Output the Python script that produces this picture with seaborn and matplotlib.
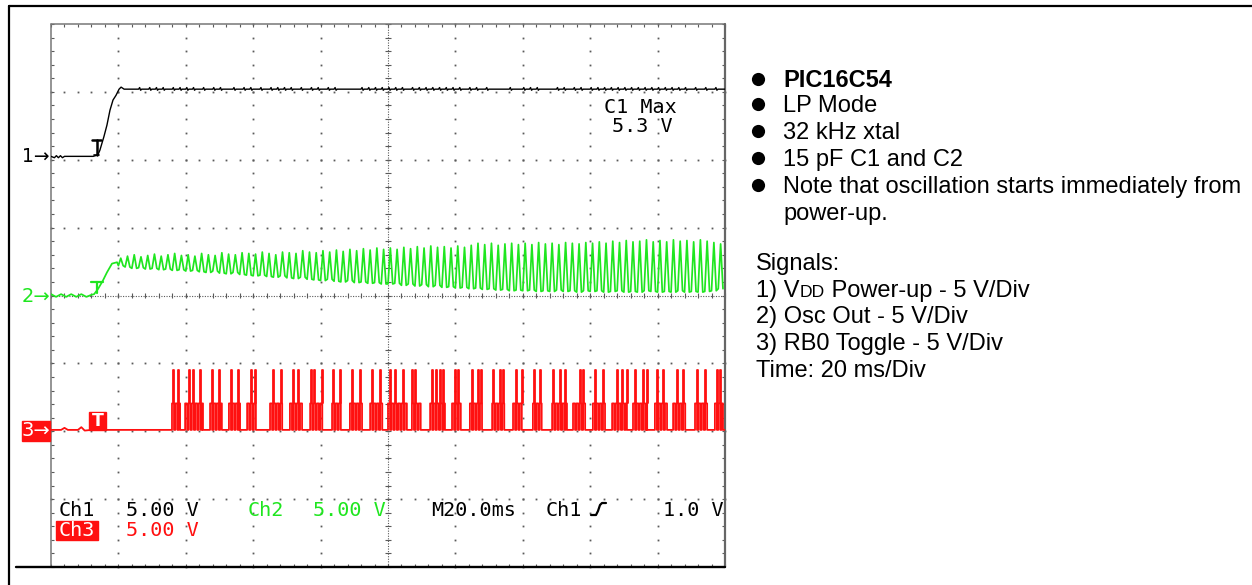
import numpy as np
import pandas as pd
import matplotlib
matplotlib.use("Agg")
import matplotlib.pyplot as plt
import seaborn as sns
from matplotlib.collections import LineCollection
from matplotlib.patches import Rectangle

sns.set_style("white")
plt.rcParams['font.family'] = ['DejaVu Sans']

# ---------------- data: time in ms (20 ms/div), signals in volts (5 V/div) ----------------
# Channel 1 : VDD power-up
ch1_t = [0.0, 1.0, 1.6, 2.2, 2.8, 3.4, 4.0, 6.5, 12.5, 13.9, 14.5, 15.7, 16.6, 17.5, 18.4, 19.3, 20.2, 20.8, 21.7]
ch1_v = [0.25, 0.15, 0.3, 0.15, 0.3, 0.15, 0.25, 0.25, 0.25, 0.35, 0.7, 1.7, 2.55, 3.65, 4.4, 4.75, 5.2, 5.35, 5.2]
ch1_level = 5.2
ch1_ripple_t = [26, 29, 31, 33, 36, 38, 40, 42, 45, 48, 50, 54, 57, 59, 62, 65, 67, 69, 71, 74, 77, 79,
                82, 84, 92, 94, 96, 98, 100, 102, 104, 107, 109, 111, 113, 115, 117, 119, 121, 124, 126,
                129, 136, 140, 142, 144, 150, 152, 155, 157, 160, 162, 164, 166, 168, 170, 172, 174, 176,
                178, 180, 182, 184, 186, 188, 191, 194, 197]

# Channel 2 : oscillator output
ch2_pre_t = [0, 1.5, 3, 4.5, 6, 7.5, 9, 10.5, 12, 12.8, 14.0, 15.4, 16.6, 18.1, 19.6]
ch2_pre_v = [0.1, -0.1, 0.1, -0.1, 0.1, -0.1, 0.1, -0.1, 0.05, 0.1, 0.5, 1.1, 1.7, 2.35, 2.45]
ch2_osc_start = 20.0   # ms
ch2_period = 2.0       # ms per cycle
ch2_high = [2.75, 2.9, 3.0, 2.85, 2.95, 3.05, 2.9, 3.0, 3.1, 2.95,
            3.0, 2.9, 3.1, 3.0, 2.95, 3.15, 3.05, 3.0, 3.15, 3.1,
            3.05, 3.2, 3.1, 3.0, 3.2, 3.15, 3.1, 3.3, 3.2, 3.15,
            3.3, 3.2, 3.35, 3.25, 3.4, 3.3, 3.45, 3.35, 3.5, 3.4,
            3.5, 3.4, 3.55, 3.45, 3.6, 3.5, 3.65, 3.55, 3.6, 3.5,
            3.65, 3.55, 3.7, 3.85, 3.75, 3.85, 3.7, 3.8, 3.85, 3.75,
            3.85, 3.75, 3.9, 3.8, 3.85, 3.75, 3.9, 3.85, 3.8, 3.9,
            3.85, 3.95, 3.85, 4.0, 3.9, 4.05, 3.95, 4.0, 4.1, 3.95,
            4.05, 3.95, 4.1, 4.0, 4.05, 3.95, 4.1, 4.0, 3.9, 3.8]
ch2_low = [2.2, 2.1, 2.0, 2.05, 1.95, 2.0, 1.9, 1.95, 1.85, 1.9,
           1.8, 1.85, 1.75, 1.7, 1.8, 1.65, 1.6, 1.7, 1.55, 1.5,
           1.45, 1.5, 1.4, 1.35, 1.45, 1.3, 1.25, 1.35, 1.2, 1.15,
           1.1, 1.2, 1.05, 1.0, 1.1, 0.95, 1.0, 0.9, 0.95, 0.85,
           0.85, 0.9, 0.75, 0.85, 0.7, 0.8, 0.65, 0.75, 0.6, 0.65,
           0.55, 0.6, 0.5, 0.55, 0.45, 0.5, 0.4, 0.45, 0.35, 0.4,
           0.35, 0.4, 0.3, 0.35, 0.3, 0.4, 0.3, 0.35, 0.25, 0.35,
           0.3, 0.35, 0.25, 0.3, 0.35, 0.25, 0.3, 0.25, 0.35, 0.3,
           0.25, 0.3, 0.25, 0.35, 0.25, 0.3, 0.25, 0.3, 0.35, 0.5]

# Channel 3 : RB0 toggle
ch3_base = 0.1
ch3_mid = 2.05
ch3_tall = 4.5
ch3_group_start = [35.9, 39.8, 47.2, 52.8, 58.2, 65.0, 70.9, 76.9, 83.4, 88.7, 94.7, 100.0, 107.1, 112.5,
                   119.0, 124.3, 130.9, 137.1, 143.0, 148.7, 154.9, 160.8, 166.5, 172.7, 179.2, 184.6, 191.1, 197.0]
ch3_group_end = [38.3, 45.1, 50.7, 56.1, 61.1, 68.8, 74.5, 80.7, 86.6, 92.3, 98.5, 105.6, 110.1, 116.9,
                 122.0, 128.2, 134.7, 140.1, 146.0, 153.1, 158.5, 165.0, 170.9, 176.9, 182.8, 188.7, 195.0, 199.4]
ch3_spike_t = [36.3, 37.8, 41.0, 42.2, 44.2, 47.7, 49.9, 53.3, 55.6, 59.3, 60.5, 65.8, 68.2, 71.9, 73.4,
               77.1, 78.0, 80.4, 83.8, 85.8, 89.2, 91.7, 95.2, 97.6, 100.6, 102.1, 104.5, 107.2, 108.0,
               113.0, 114.2, 115.4, 116.4, 119.9, 120.9, 124.8, 126.8, 127.6, 131.2, 133.2, 134.2, 137.9,
               139.7, 143.3, 145.1, 149.1, 151.0, 152.5, 157.0, 158.0, 161.4, 163.7, 167.9, 169.4, 170.8,
               173.3, 175.8, 176.8, 179.7, 181.7, 185.7, 187.6, 191.8, 194.1, 197.5, 198.5]
ch3_pre_t = [0, 3, 4, 5, 8, 9, 10, 12]
ch3_pre_v = [0.1, 0.1, 0.25, 0.1, 0.1, 0.3, 0.05, 0.1]

# channel ground positions on screen (divisions) and volts per division
ch_offset = {1: 6.0, 2: 4.0, 3: 2.0}
volts_per_div = 5.0

# ---------------- build traces ----------------
def dv(v, ch):
    return ch_offset[ch] + np.asarray(v, dtype=float) / volts_per_div

t1 = list(ch1_t)
v1 = list(ch1_v)
for tr in ch1_ripple_t:
    t1 += [tr, tr + 0.3, tr + 0.6, tr + 0.9]
    v1 += [ch1_level, ch1_level + 0.12, ch1_level - 0.08, ch1_level]
t1 += [200]
v1 += [ch1_level]
df1 = pd.DataFrame({"t": t1, "y": dv(v1, 1)})

t2 = list(ch2_pre_t)
v2 = list(ch2_pre_v)
for i, (hi, lo) in enumerate(zip(ch2_high, ch2_low)):
    t0 = ch2_osc_start + i * ch2_period
    t2 += [t0, t0 + 0.35 * ch2_period, t0 + 0.7 * ch2_period]
    v2 += [lo, hi, lo]
df2 = pd.DataFrame({"t": t2, "y": dv(v2, 2)})

t3 = list(ch3_pre_t)
v3 = list(ch3_pre_v)
for s, e in zip(ch3_group_start, ch3_group_end):
    t3.append(s); v3.append(ch3_base)
    tt = s
    while tt < e - 0.2:
        te = min(tt + 0.6, e)
        t3 += [tt, tt, te, te]
        v3 += [ch3_base, ch3_mid, ch3_mid, ch3_base]
        tt += 1.0
    t3.append(e); v3.append(ch3_base)
t3.append(200); v3.append(ch3_base)
rows = [{"t": a, "y": b, "u": 0} for a, b in zip(t3, dv(v3, 3))]
for k, ts in enumerate(ch3_spike_t):
    for a, b in [(ts, ch3_mid), (ts, ch3_tall), (ts + 0.3, ch3_tall), (ts + 0.3, ch3_mid)]:
        rows.append({"t": a, "y": float(dv(b, 3)), "u": k + 1})
df3 = pd.DataFrame(rows)

# ---------------- figure ----------------
W, H = 1252, 585
fig = plt.figure(figsize=(W / 100, H / 100), dpi=100)
fig.patch.set_facecolor("white")
ax = fig.add_axes([51 / W, (H - 567) / H, 674 / W, 543 / H])

GREEN = "#1fe61f"
RED = "#ff1010"

sns.lineplot(data=df1, x="t", y="y", ax=ax, color="black", lw=1.0, estimator=None, sort=False, zorder=3)
sns.lineplot(data=df2, x="t", y="y", ax=ax, color=GREEN, lw=1.25, estimator=None, sort=False, zorder=3)
sns.lineplot(data=df3, x="t", y="y", units="u", ax=ax, color=RED, lw=1.3, estimator=None,
             sort=False, zorder=3)
ax.set_xlim(0, 200)
ax.set_ylim(0, 8)
ax.axis("off")

# graticule
gcol = "#5a5a5a"
xs_minor = np.arange(0, 200.01, 4)
ys_minor = np.arange(0, 8.001, 0.2)
for xm in [20, 40, 60, 80, 120, 140, 160, 180]:
    ax.plot(np.full_like(ys_minor, xm), ys_minor, ls="none", marker="s", ms=1.3, mew=0,
            color=gcol, clip_on=False, zorder=1)
for ym in [1, 2, 3, 5, 6, 7]:
    ax.plot(xs_minor, np.full_like(xs_minor, ym), ls="none", marker="s", ms=1.3, mew=0,
            color=gcol, clip_on=False, zorder=1)
ax.plot([100, 100], [0, 8], color=gcol, lw=0.8, ls=(0, (1, 1.3)), clip_on=False, zorder=1)
ax.plot([0, 200], [4, 4], color=gcol, lw=0.8, ls=(0, (1, 1.3)), clip_on=False, zorder=1)
segs = [[(99.1, y), (100.9, y)] for y in ys_minor]
segs += [[(x, 3.956), (x, 4.044)] for x in xs_minor]
segs += [[(0, y), (0.9, y)] for y in ys_minor]
segs += [[(199.1, y), (200, y)] for y in ys_minor]
segs += [[(x, 8), (x, 7.956)] for x in xs_minor]
segs += [[(x, 0), (x, 0.044)] for x in xs_minor]
ax.add_collection(LineCollection(segs, colors=gcol, linewidths=0.8, clip_on=False, zorder=1))
ax.plot([0, 0], [0, 8], color="#777777", lw=1.1, clip_on=False)
ax.plot([0, 200], [8, 8], color="#777777", lw=1.1, clip_on=False)
ax.plot([200, 200], [0, 8], color="#666666", lw=1.6, clip_on=False)

# trigger markers
ax.plot([12.2, 14.8], [6.29, 6.29], color="black", lw=1.8, clip_on=False, zorder=4)
ax.plot([13.6, 13.6], [6.29, 6.07], color="black", lw=1.8, clip_on=False, zorder=4)
ax.plot([12.9, 14.3], [6.07, 6.07], color="black", lw=1.2, clip_on=False, zorder=4)
ax.plot([11.9, 15.4], [4.20, 4.20], color=GREEN, lw=1.6, clip_on=False, zorder=4)
ax.plot([13.6, 13.6], [4.20, 4.03], color=GREEN, lw=1.6, clip_on=False, zorder=4)
ax.add_patch(Rectangle((11.4, 2.02), 4.8, 0.26, color=RED, zorder=4, clip_on=False))
ax.text(13.8, 2.15, "T", color="white", fontsize=12.5, fontweight="bold", ha="center", va="center",
        family="DejaVu Sans", zorder=5)
ax.set_xlim(0, 200)
ax.set_ylim(0, 8)

# ---------------- overlay (text, frame) ----------------
ov = fig.add_axes([0, 0, 1, 1], zorder=5)
ov.set_xlim(0, W)
ov.set_ylim(H, 0)
ov.set_autoscale_on(False)
ov.axis("off")

ov.plot([9, W], [6, 6], color="black", lw=1.6, clip_on=False)
ov.plot([9, 9], [6, H], color="black", lw=1.6, clip_on=False)
ov.plot([16, 725], [567, 567], color="black", lw=1.7)

sf = "DejaVu Sans Mono"
sfs = 14.5
ov.text(50, 156, "1\u2192", color="black", fontsize=13.5, ha="right", va="center", family="DejaVu Sans")
ov.text(50, 296, "2\u2192", color=GREEN, fontsize=14, ha="right", va="center", family="DejaVu Sans")
ov.add_patch(Rectangle((22, 421), 28, 20, color=RED))
ov.text(36, 431, "3\u2192", color="white", fontsize=14, ha="center", va="center", family="DejaVu Sans")

ov.text(640.5, 113.3, "C1 Max", color="black", fontsize=sfs, ha="center", va="baseline", family=sf)
ov.text(642.5, 131.7, "5.3 V", color="black", fontsize=sfs, ha="center", va="baseline", family=sf)

row1, row2 = 515.5, 535.5
ov.text(77, row1, "Ch1", color="black", fontsize=sfs, ha="center", va="baseline", family=sf)
ov.text(162, row1, "5.00 V", color="black", fontsize=sfs, ha="center", va="baseline", family=sf)
ov.text(265.5, row1, "Ch2", color=GREEN, fontsize=sfs, ha="center", va="baseline", family=sf)
ov.text(349.5, row1, "5.00 V", color=GREEN, fontsize=sfs, ha="center", va="baseline", family=sf)
ov.text(474, row1, "M20.0ms", color="black", fontsize=sfs, ha="center", va="baseline", family=sf)
ov.text(563.5, row1, "Ch1", color="black", fontsize=sfs, ha="center", va="baseline", family=sf)
ov.plot([591, 596, 598, 600, 602, 606], [515, 515, 511, 505, 503, 503], color="black", lw=1.6)
ov.text(693, row1, "1.0 V", color="black", fontsize=sfs, ha="center", va="baseline", family=sf)
ov.add_patch(Rectangle((56, 521), 42, 19, color=RED))
ov.text(77, row2, "Ch3", color="white", fontsize=sfs, ha="center", va="baseline", family=sf)
ov.text(162, row2, "5.00 V", color=RED, fontsize=sfs, ha="center", va="baseline", family=sf)

# right-hand notes
tf = "Liberation Sans"
fs = 17
bullets = [("PIC16C54", 87.0, "bold"), ("LP Mode", 111.7, "normal"), ("32 kHz xtal", 139.3, "normal"),
           ("15 pF C1 and C2", 166.0, "normal"),
           ("Note that oscillation starts immediately from", 193.0, "normal")]
for s, yb, w in bullets:
    ov.plot([758], [yb - 8], marker="o", ms=9.5, color="black", mew=0, ls="none")
    ov.text(783, yb, s, fontsize=fs, fontweight=w, family=tf, ha="left", va="baseline", color="black")
ov.text(783, 219.6, "power-up.", fontsize=fs, family=tf, ha="left", va="baseline", color="black")

ov.text(756, 270, "Signals:", fontsize=fs, family=tf, ha="left", va="baseline", color="black")
fig.canvas.draw()
rend = fig.canvas.get_renderer()
p1 = ov.text(756, 296.7, "1) V", fontsize=fs, family=tf, ha="left", va="baseline", color="black")
x1 = p1.get_window_extent(rend).x1
p2 = ov.text(x1, 296.7, "DD", fontsize=fs * 0.74, family=tf, ha="left", va="baseline", color="black")
x2 = p2.get_window_extent(rend).x1
ov.text(x2, 296.7, " Power-up - 5 V/Div", fontsize=fs, family=tf, ha="left", va="baseline", color="black")
ov.text(756, 323.3, "2) Osc Out - 5 V/Div", fontsize=fs, family=tf, ha="left", va="baseline", color="black")
ov.text(756, 350.0, "3) RB0 Toggle - 5 V/Div", fontsize=fs, family=tf, ha="left", va="baseline", color="black")
ov.text(756, 376.7, "Time: 20 ms/Div", fontsize=fs, family=tf, ha="left", va="baseline", color="black")

fig.savefig("out.png", dpi=100, facecolor="white")
